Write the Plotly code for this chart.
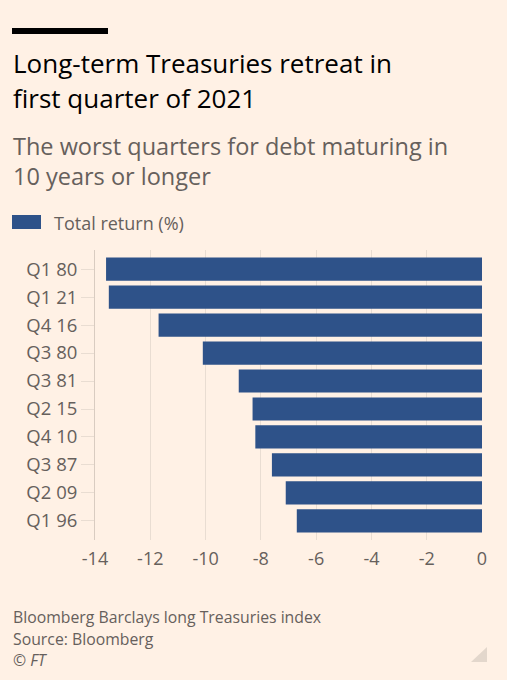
import plotly.graph_objects as go

# worst quarters for long Treasuries, total return (%)
quarters = ["Q1 80", "Q1 21", "Q4 16", "Q3 80", "Q3 81",
            "Q2 15", "Q4 10", "Q3 87", "Q2 09", "Q1 96"]
total_return = [-13.6, -13.5, -11.7, -10.1, -8.8,
                -8.3, -8.2, -7.6, -7.1, -6.7]
x_ticks = [-14, -12, -10, -8, -6, -4, -2, 0]

bg = "#fff1e5"
bar_color = "#2e5289"
grid = "#e9ddd2"
grey = "#66605c"
font = "Open Sans"

fig = go.Figure()
fig.add_trace(go.Bar(
    x=total_return,
    y=quarters,
    orientation="h",
    marker=dict(color=bar_color, line=dict(width=0)),
    width=0.83,
    name="Total return (%)",
    showlegend=False,
))

fig.update_layout(
    width=507, height=680,
    paper_bgcolor=bg, plot_bgcolor=bg,
    margin=dict(l=95, r=25, t=250, b=140),
    font=dict(family=font, color=grey),
    xaxis=dict(
        range=[-14, 0],
        tickvals=x_ticks,
        ticktext=[str(v) for v in x_ticks],
        showgrid=True, gridcolor=grid, gridwidth=1,
        zeroline=False,
        ticks="", ticklabelstandoff=6,
        tickfont=dict(size=18, color=grey),
        fixedrange=True,
    ),
    yaxis=dict(
        range=[9.68, -0.68],
        showline=True, linecolor="#d9ccc1", linewidth=1,
        ticks="outside", ticklen=13, tickcolor=grid,
        tickfont=dict(size=18.5, color=grey),
        showgrid=False,
        fixedrange=True,
    ),
    bargap=0.17,
)


def py(px):
    # pixel row -> paper y
    return (680 - 140 - px) / 290


def pxx(px):
    return (px - 95) / 387


# black bar above the title
fig.add_shape(type="rect", xref="paper", yref="paper",
              x0=pxx(12), x1=pxx(108), y0=py(34), y1=py(28),
              line=dict(width=0), fillcolor="#000")

# legend swatch
fig.add_shape(type="rect", xref="paper", yref="paper",
              x0=pxx(12), x1=pxx(41), y0=py(229), y1=py(215),
              line=dict(width=0), fillcolor=bar_color)

# corner triangle
fig.add_shape(type="path", xref="paper", yref="paper",
              path=f"M {pxx(487)} {py(647)} L {pxx(487)} {py(662)} L {pxx(471)} {py(662)} Z",
              line=dict(width=0), fillcolor="#e3d7cc")

# one annotation per text line: (text, centre row, left px, size, colour, style)
lines = [
    ("Long-term Treasuries retreat in", 63, 11, 26, "#000", "normal"),
    ("first quarter of 2021", 98, 11, 26, "#000", "normal"),
    ("The worst quarters for debt maturing in", 146.5, 11, 23.5, grey, "normal"),
    ("10 years or longer", 175.5, 11, 23.5, grey, "normal"),
    ("Total return (%)", 223, 52, 18, grey, "normal"),
    ("Bloomberg Barclays long Treasuries index", 617, 11, 15.8, grey, "normal"),
    ("Source: Bloomberg", 639, 11, 15.8, grey, "normal"),
    ("© FT", 660, 11, 15.8, grey, "italic"),
]
for txt, row, left, size, color, style in lines:
    fig.add_annotation(
        text=txt, xref="paper", yref="paper",
        x=pxx(left), y=py(row),
        xanchor="left", yanchor="middle", showarrow=False, align="left",
        font=dict(size=size, color=color, family=font, style=style),
    )

fig.write_html("out.html", config={"displayModeBar": False},
               post_script="document.body.style.margin='0';")
